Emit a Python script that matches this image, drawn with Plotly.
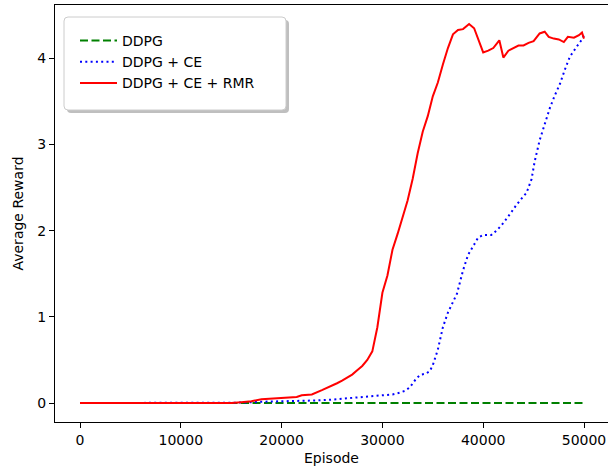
import plotly.graph_objects as go

# ---- data ----
ddpg_x = [0, 50000]
ddpg_y = [0.0, 0.0]

ce_x = [0, 5000, 10000, 15000, 16000, 18000, 20000, 21800, 23500, 25000, 26800,
        28400, 30100, 31000, 31700, 32200, 32700, 33100, 33400, 33800, 34300,
        34700, 35000, 35500, 36000, 36500, 37000, 37400, 38000, 38500, 39000,
        39500, 40000, 40500, 40800, 41400, 42000, 42700, 43300, 44000, 44300,
        44800, 45100, 45600, 46100, 46600, 47100, 47600, 48100, 48600, 49300,
        49800, 50000]
ce_y = [0.0, 0.0, 0.0, 0.0, 0.005, 0.015, 0.02, 0.02, 0.03, 0.04, 0.06,
        0.07, 0.09, 0.1, 0.12, 0.14, 0.18, 0.24, 0.29, 0.33, 0.34,
        0.37, 0.44, 0.62, 0.88, 1.05, 1.18, 1.27, 1.54, 1.72, 1.82,
        1.92, 1.95, 1.95, 1.95, 2.01, 2.09, 2.2, 2.3, 2.4, 2.44,
        2.6, 2.8, 3.05, 3.24, 3.42, 3.57, 3.7, 3.87, 4.02, 4.14,
        4.22, 4.27]

rmr_x = [0, 5000, 10000, 15000, 16000, 17000, 18000, 19000, 20000, 21000,
         21500, 22000, 23000, 24000, 25000, 25500, 26000, 27000, 27500, 28000,
         28500, 29000, 29500, 30000, 30500, 31000, 31500, 32000, 32500, 33000,
         33500, 34000, 34500, 35000, 35500, 36000, 36500, 37000, 37500, 38000,
         38600, 39100, 39600, 40000, 40500, 41000, 41600, 42000, 42500, 43000,
         43500, 44000, 44500, 45000, 45600, 46100, 46500, 47000, 47500, 48000,
         48400, 49000, 49500, 49800, 50000]
rmr_y = [0.0, 0.0, 0.0, 0.0, 0.01, 0.02, 0.045, 0.05, 0.06, 0.065,
         0.07, 0.09, 0.1, 0.15, 0.2, 0.23, 0.26, 0.33, 0.38, 0.43,
         0.5, 0.6, 0.88, 1.28, 1.48, 1.78, 1.96, 2.17, 2.35, 2.6,
         2.9, 3.15, 3.33, 3.56, 3.72, 3.93, 4.12, 4.28, 4.33, 4.34,
         4.40, 4.35, 4.2, 4.07, 4.09, 4.12, 4.21, 4.01, 4.09, 4.12,
         4.15, 4.15, 4.18, 4.2, 4.29, 4.31, 4.25, 4.23, 4.22, 4.19,
         4.25, 4.24, 4.27, 4.3, 4.23]

x_ticks = [0, 10000, 20000, 30000, 40000, 50000]
y_ticks = [0, 1, 2, 3, 4]

# ---- layout geometry (pixels) ----
W, H = 608, 466
L, T, R, B = 55, 5, 608, 422
x0_px, x_per = 80.0, 504.0 / 50000.0
x_min = (L - x0_px) / x_per
x_max = (R - x0_px) / x_per
y_range = [-0.22, 4.62]

def px(x):
    return (x - L) / (R - L)

def py(y):
    return (B - y) / (B - T)

FONT = "DejaVu Sans"

fig = go.Figure()
fig.add_trace(go.Scatter(x=ddpg_x, y=ddpg_y, mode="lines", name="DDPG",
                         line=dict(color="#008000", width=2, dash="8px,3.5px")))
fig.add_trace(go.Scatter(x=ce_x, y=ce_y, mode="lines", name="DDPG + CE",
                         line=dict(color="#0000ff", width=2, dash="2px,3.3px")))
fig.add_trace(go.Scatter(x=rmr_x, y=rmr_y, mode="lines", name="DDPG + CE + RMR",
                         line=dict(color="#ff0000", width=2)))

# legend frame with shadow
def rrect(x0, y0, x1, y1, r):
    return (f"M {px(x0 + r)},{py(y0)} L {px(x1 - r)},{py(y0)} "
            f"Q {px(x1)},{py(y0)} {px(x1)},{py(y0 + r)} "
            f"L {px(x1)},{py(y1 - r)} Q {px(x1)},{py(y1)} {px(x1 - r)},{py(y1)} "
            f"L {px(x0 + r)},{py(y1)} Q {px(x0)},{py(y1)} {px(x0)},{py(y1 - r)} "
            f"L {px(x0)},{py(y0 + r)} Q {px(x0)},{py(y0)} {px(x0 + r)},{py(y0)} Z")

shapes = [
    dict(type="path", xref="paper", yref="paper", path=rrect(67, 20, 289, 113, 4),
         fillcolor="rgba(128,128,128,0.5)", line=dict(width=0), layer="above"),
    dict(type="path", xref="paper", yref="paper", path=rrect(64, 17, 286, 110, 4),
         fillcolor="white", line=dict(color="#cccccc", width=1), layer="above"),
]

fig.update_layout(
    width=W, height=H,
    margin=dict(l=L, r=W - R, t=T, b=H - B, autoexpand=False),
    paper_bgcolor="white", plot_bgcolor="white",
    font=dict(family=FONT, size=14, color="black"),
    showlegend=True,
    legend=dict(x=px(75), y=py(25), xanchor="left", yanchor="top",
                bgcolor="rgba(0,0,0,0)", borderwidth=0,
                font=dict(family=FONT, size=14, color="black"),
                itemwidth=37, tracegroupgap=0),
    shapes=shapes,
    xaxis=dict(range=[x_min, x_max], tickvals=x_ticks,
               ticktext=[str(v) for v in x_ticks],
               showgrid=False, zeroline=False,
               showline=True, linecolor="black", linewidth=1, mirror=True,
               ticks="outside", ticklen=5, tickcolor="black", tickwidth=1,
               tickfont=dict(family=FONT, size=14, color="black"),
               title=dict(text="Episode", font=dict(family=FONT, size=14, color="black"),
                          standoff=10),
               automargin=False),
    yaxis=dict(range=y_range, tickvals=y_ticks,
               ticktext=[str(v) for v in y_ticks],
               showgrid=False, zeroline=False,
               showline=True, linecolor="black", linewidth=1,
               ticks="outside", ticklen=5, tickcolor="black", tickwidth=1,
               tickfont=dict(family=FONT, size=14, color="black"),
               title=dict(text="Average Reward", font=dict(family=FONT, size=14, color="black"),
                          standoff=10),
               automargin=False),
)

fig.write_html("out.html", config={"displayModeBar": False},
               post_script="document.body.style.margin='0';document.body.style.padding='0';")
